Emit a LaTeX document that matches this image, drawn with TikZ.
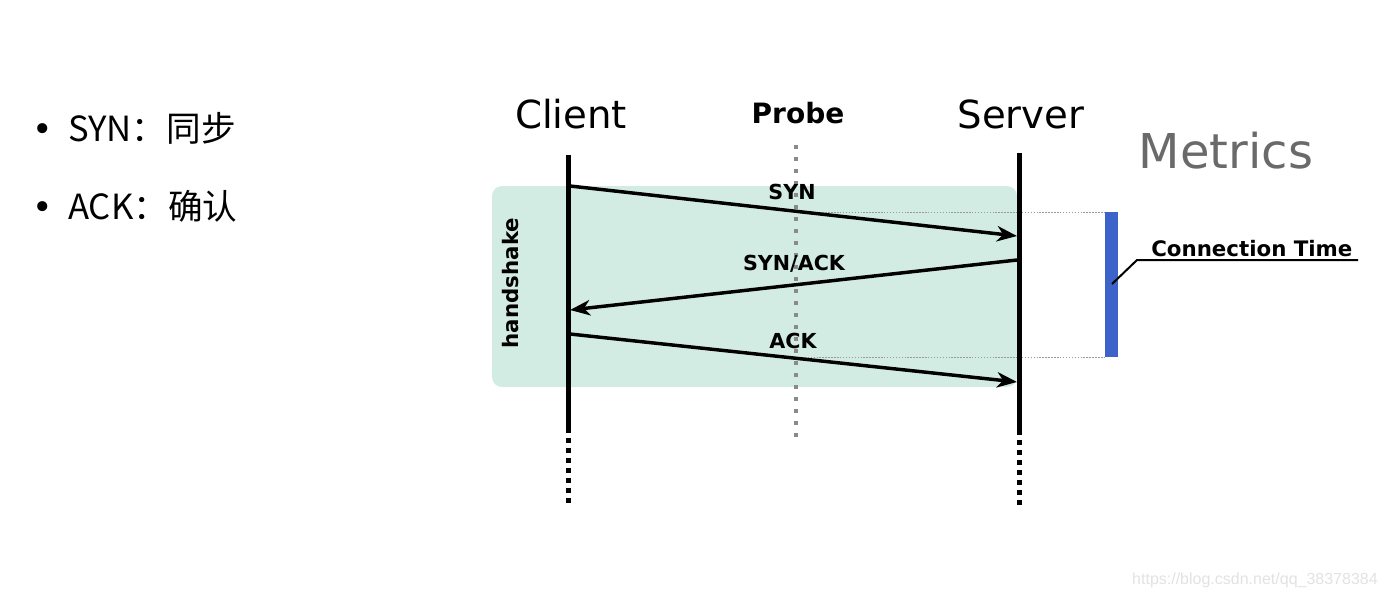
\documentclass[tikz,border=0pt]{standalone}
\usepackage{fontspec}
\setmainfont{DejaVu Sans}
\newfontfamily\cjk{Noto Sans CJK SC}
\newfontfamily\wmfont{Liberation Sans}
\usetikzlibrary{arrows.meta}
\definecolor{hsgreen}{HTML}{D3ECE3}
\definecolor{barblue}{HTML}{3C63C9}
\definecolor{metricgray}{HTML}{6A6A6A}
\definecolor{probegray}{HTML}{8A8A8A}
\definecolor{wmgray}{HTML}{E2E2E2}
\tikzset{
  lifeline/.style={line width=3.75pt, black},
  lifedots/.style={line width=3.75pt, black, dash pattern=on 3.75pt off 3.75pt},
  probeline/.style={line width=2.6pt, probegray, dash pattern=on 3pt off 6pt},
  msg/.style={line width=2.6pt, black, -{Stealth[length=15pt, width=11.5pt, inset=4.5pt]}},
  guide/.style={line width=0.75pt, gray!80, dash pattern=on 1.1pt off 1.1pt},
  head/.style={font=\fontsize{29pt}{34pt}\selectfont, anchor=base, inner sep=0},
  lbl/.style={font=\fontsize{15.5pt}{18pt}\selectfont\bfseries, anchor=base, inner sep=0},
  bullet/.style={font=\cjk\fontsize{26pt}{30pt}\selectfont, anchor=base west, inner sep=0}
}
\begin{document}
\begin{tikzpicture}[x=0.75pt, y=-0.75pt]
\useasboundingbox (0,0) rectangle (1388,597);

% bullets
\node[bullet] (b1) at (32,141) {\makebox[27pt][l]{\fontspec{DejaVu Sans}•}SYN：同步};
\node[bullet] (b2) at (32,219) {\makebox[27pt][l]{\fontspec{DejaVu Sans}•}ACK：确认};

% handshake box
\fill[hsgreen, rounded corners=7.5pt] (492,186) rectangle (1017,387);
\node[font=\fontsize{16pt}{18pt}\selectfont\bfseries, rotate=90, inner sep=0] (hs) at (511,283) {handshake};

% headings
\node[head] (client) at (571,128) {Client};
\node[head] (server) at (1021,128) {Server};
\node[lbl, font=\fontsize{21pt}{24pt}\selectfont\bfseries] (probe) at (798,123) {Probe};
\node[head, font=\fontsize{36pt}{40pt}\selectfont, text=metricgray] (metrics) at (1226,168) {Metrics};

% coordinates
\coordinate (c0) at (568,155);
\coordinate (c1) at (568,433);
\coordinate (c1b) at (568,438);
\coordinate (c2) at (568,505);
\coordinate (s0) at (1019,153);
\coordinate (s1) at (1019,435);
\coordinate (s1b) at (1019,440);
\coordinate (s2) at (1019,507);
\coordinate (p0) at (796,145);
\coordinate (p1) at (796,442);

\coordinate (syn0) at (570,186);
\coordinate (syn1) at (1017,236);
\coordinate (sa0) at (1017,260);
\coordinate (sa1) at (570,310);
\coordinate (ack0) at (570,334);
\coordinate (ack1) at (1017,382);

\coordinate (g1a) at (796,212);
\coordinate (g1b) at (1105,212);
\coordinate (g2a) at (796,357);
\coordinate (g2b) at (1105,357);

% probe line
\draw[probeline] (p0) -- (p1);

% guides
\draw[guide] (g1a) -- (g1b);
\draw[guide] (g2a) -- (g2b);

% lifelines
\draw[lifeline] (c0) -- (c1);
\draw[lifedots] (c1b) -- (c2);
\draw[lifeline] (s0) -- (s1);
\draw[lifedots] (s1b) -- (s2);

% messages
\draw[msg] (syn0) -- (syn1);
\draw[msg] (sa0) -- (sa1);
\draw[msg] (ack0) -- (ack1);
\node[lbl] (synl) at (792,199) {SYN};
\node[lbl] (sal) at (794,270) {SYN/ACK};
\node[lbl] (ackl) at (793,348) {ACK};

% metrics bar
\fill[barblue] (1105,212) rectangle (1118,357);
\coordinate (bar) at (1112,284);
\coordinate (elbow) at (1137,260);
\coordinate (lend) at (1358,260);
\draw[line width=1.5pt, black] (bar) -- (elbow) -- (lend);
\node[lbl, font=\fontsize{16pt}{18pt}\selectfont\bfseries, anchor=base west] (ct) at (1151,256) {Connection Time};

% watermark
\node[font=\wmfont\fontsize{12pt}{14pt}\selectfont, text=wmgray, anchor=base east, inner sep=0] (wm) at (1378,584) {https://blog.csdn.net/qq\_38378384};
\end{tikzpicture}
\end{document}
